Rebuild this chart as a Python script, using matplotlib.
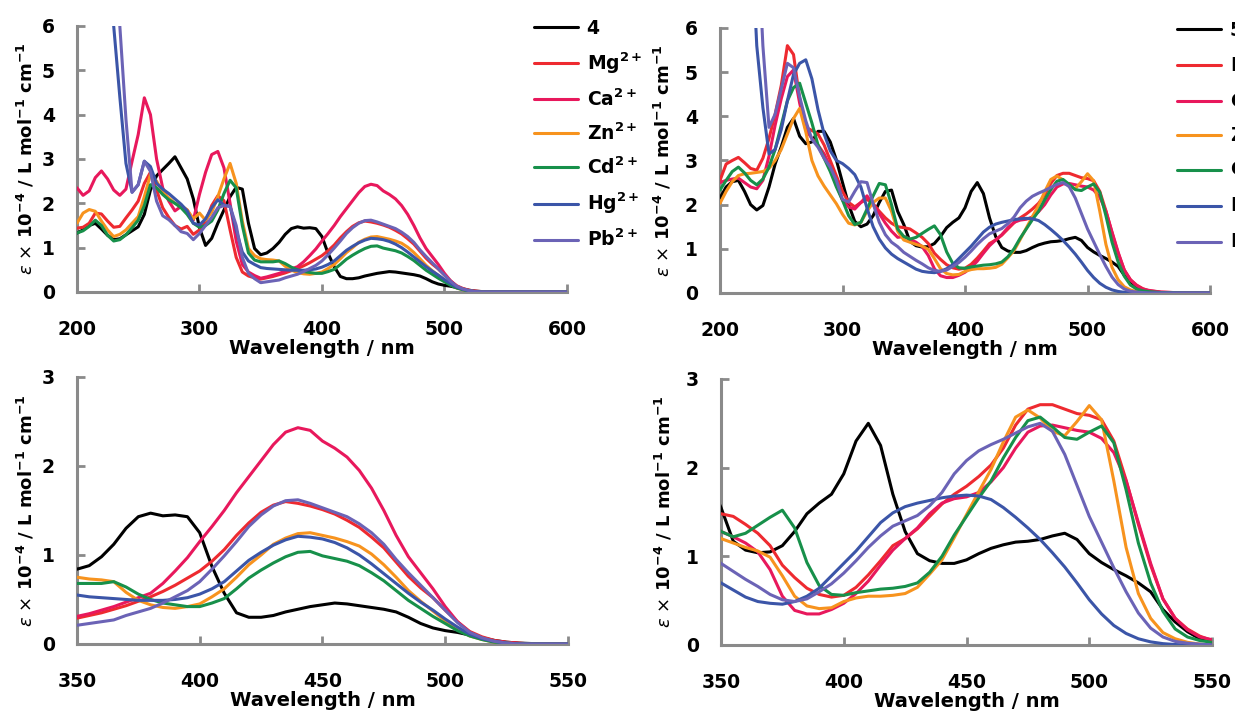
import numpy as np
import matplotlib
matplotlib.use("Agg")
import matplotlib.pyplot as plt

# ---------------- data ----------------
WAVELENGTH = np.concatenate([np.arange(200, 550, 5), [550, 560, 580, 600]])
nan = np.nan

SERIES_LABELS_4 = ["4", r"Mg$^{\mathbf{2+}}$", r"Ca$^{\mathbf{2+}}$", r"Zn$^{\mathbf{2+}}$",
                   r"Cd$^{\mathbf{2+}}$", r"Hg$^{\mathbf{2+}}$", r"Pb$^{\mathbf{2+}}$"]
SERIES_LABELS_5 = ["5", r"Mg$^{\mathbf{2+}}$", r"Ca$^{\mathbf{2+}}$", r"Zn$^{\mathbf{2+}}$",
                   r"Cd$^{\mathbf{2+}}$", r"Hg$^{\mathbf{2+}}$", r"Pb$^{\mathbf{2+}}$"]
COLORS = ["#000000", "#ee2a30", "#e8185c", "#f7931e", "#17904a", "#3b55a8", "#6b63b6"]

# compound 4 (values x 1e-4)
c4_free = [1.33, 1.40, 1.50, 1.55, 1.42, 1.28, 1.18, 1.20, 1.29, 1.38,
           1.47, 1.75, 2.30, 2.62, 2.76, 2.90, 3.05, 2.80, 2.55, 2.10,
           1.45, 1.05, 1.21, 1.55, 1.85, 2.15, 2.36, 2.32, 1.55, 0.98,
           0.84, 0.88, 0.98, 1.12, 1.30, 1.43, 1.47, 1.44, 1.45, 1.43,
           1.25, 0.87, 0.57, 0.35, 0.30, 0.30, 0.32, 0.36, 0.39, 0.42,
           0.44, 0.46, 0.45, 0.43, 0.41, 0.39, 0.36, 0.30, 0.23, 0.18,
           0.15, 0.13, 0.10, 0.07, 0.04, 0.02, 0.01, 0.005, 0.0, 0.0,
           0.0, 0.0, 0.0, 0.0]
c4_mg = [1.44, 1.46, 1.55, 1.78, 1.76, 1.60, 1.46, 1.48, 1.67, 1.85,
         2.05, 2.45, 2.70, 2.30, 1.90, 1.68, 1.50, 1.42, 1.48, 1.30,
         1.40, 1.58, 1.95, 2.17, 2.06, 1.40, 0.78, 0.45, 0.36, 0.32,
         0.29, 0.32, 0.35, 0.39, 0.43, 0.48, 0.53, 0.59, 0.66, 0.74,
         0.82, 0.93, 1.06, 1.22, 1.36, 1.48, 1.56, 1.60, 1.58, 1.55,
         1.51, 1.46, 1.39, 1.31, 1.20, 1.08, 0.92, 0.76, 0.63, 0.52,
         0.38, 0.25, 0.14, 0.08, 0.04, 0.02, 0.01, 0.0, 0.0, 0.0,
         0.0, 0.0, 0.0, 0.0]
c4_ca = [2.35, 2.18, 2.28, 2.58, 2.73, 2.55, 2.30, 2.18, 2.32, 2.95,
         3.55, 4.38, 4.00, 3.00, 2.35, 2.05, 1.83, 1.93, 1.85, 1.62,
         2.20, 2.70, 3.10, 3.17, 2.80, 2.00, 1.15, 0.62, 0.45, 0.37,
         0.31, 0.34, 0.38, 0.42, 0.47, 0.52, 0.57, 0.68, 0.82, 0.97,
         1.15, 1.32, 1.50, 1.70, 1.88, 2.06, 2.24, 2.38, 2.43, 2.40,
         2.28, 2.20, 2.10, 1.95, 1.75, 1.50, 1.22, 0.98, 0.80, 0.62,
         0.42, 0.25, 0.13, 0.06, 0.03, 0.015, 0.005, 0.0, 0.0, 0.0,
         0.0, 0.0, 0.0, 0.0]
c4_zn = [1.55, 1.78, 1.86, 1.82, 1.60, 1.40, 1.25, 1.30, 1.40, 1.55,
         1.70, 2.15, 2.65, 2.50, 2.26, 2.12, 2.00, 1.95, 1.85, 1.65,
         1.78, 1.62, 1.80, 2.15, 2.55, 2.90, 2.45, 1.60, 0.98, 0.82,
         0.75, 0.73, 0.72, 0.70, 0.58, 0.49, 0.44, 0.41, 0.40, 0.42,
         0.45, 0.53, 0.62, 0.75, 0.89, 1.00, 1.12, 1.19, 1.24, 1.25,
         1.22, 1.19, 1.15, 1.10, 1.01, 0.89, 0.75, 0.60, 0.48, 0.37,
         0.26, 0.17, 0.09, 0.05, 0.02, 0.01, 0.0, 0.0, 0.0, 0.0,
         0.0, 0.0, 0.0, 0.0]
c4_cd = [1.33, 1.38, 1.48, 1.62, 1.50, 1.28, 1.15, 1.18, 1.29, 1.45,
         1.62, 1.95, 2.42, 2.35, 2.20, 2.08, 2.00, 1.90, 1.75, 1.55,
         1.46, 1.50, 1.60, 1.85, 2.22, 2.52, 2.35, 1.50, 0.88, 0.72,
         0.68, 0.68, 0.68, 0.70, 0.64, 0.56, 0.50, 0.46, 0.44, 0.42,
         0.42, 0.46, 0.51, 0.62, 0.74, 0.83, 0.91, 0.98, 1.03, 1.04,
         0.99, 0.96, 0.93, 0.88, 0.80, 0.71, 0.60, 0.49, 0.40, 0.31,
         0.23, 0.15, 0.09, 0.05, 0.02, 0.01, 0.0, 0.0, 0.0, 0.0,
         0.0, 0.0, 0.0, 0.0]
c4_hg = [nan, nan, nan, nan, nan, 8.5, 6.0, 4.4, 2.9, 2.25,
         2.42, 2.95, 2.83, 2.45, 2.32, 2.22, 2.10, 1.98, 1.83, 1.55,
         1.51, 1.65, 1.90, 2.08, 1.96, 1.93, 1.40, 0.90, 0.70, 0.62,
         0.55, 0.53, 0.52, 0.51, 0.50, 0.49, 0.49, 0.49, 0.50, 0.52,
         0.56, 0.62, 0.70, 0.82, 0.94, 1.03, 1.11, 1.17, 1.21, 1.20,
         1.18, 1.14, 1.08, 1.00, 0.90, 0.79, 0.68, 0.57, 0.47, 0.38,
         0.28, 0.19, 0.11, 0.06, 0.03, 0.01, 0.0, 0.0, 0.0, 0.0,
         0.0, 0.0, 0.0, 0.0]
c4_pb = [nan, nan, nan, nan, nan, nan, 8.0, 6.0, 3.9, 2.25,
         2.42, 2.95, 2.72, 2.05, 1.72, 1.63, 1.50, 1.36, 1.32, 1.18,
         1.32, 1.50, 1.68, 1.90, 1.95, 1.93, 1.50, 0.78, 0.42, 0.30,
         0.21, 0.23, 0.25, 0.27, 0.32, 0.36, 0.40, 0.46, 0.53, 0.60,
         0.70, 0.84, 0.99, 1.15, 1.32, 1.45, 1.55, 1.61, 1.62, 1.58,
         1.53, 1.48, 1.43, 1.35, 1.25, 1.12, 0.95, 0.80, 0.66, 0.52,
         0.38, 0.24, 0.13, 0.07, 0.03, 0.01, 0.0, 0.0, 0.0, 0.0,
         0.0, 0.0, 0.0, 0.0]

# compound 5 (values x 1e-4)
c5_free = [2.15, 2.40, 2.52, 2.55, 2.30, 2.00, 1.88, 1.98, 2.40, 2.92,
           3.31, 3.75, 3.95, 3.55, 3.38, 3.42, 3.66, 3.66, 3.42, 3.01,
           2.50, 2.00, 1.62, 1.50, 1.56, 1.75, 2.05, 2.30, 2.33, 1.85,
           1.55, 1.17, 1.07, 1.04, 1.05, 1.12, 1.28, 1.48, 1.60, 1.70,
           1.93, 2.30, 2.50, 2.25, 1.70, 1.28, 1.03, 0.95, 0.92, 0.92,
           0.96, 1.03, 1.09, 1.13, 1.16, 1.17, 1.19, 1.23, 1.26, 1.19,
           1.03, 0.93, 0.85, 0.78, 0.70, 0.60, 0.40, 0.26, 0.15, 0.07,
           0.03, 0.01, 0.0, 0.0]
c5_mg = [2.55, 2.92, 3.00, 3.07, 2.95, 2.82, 2.78, 3.05, 3.50, 4.05,
         4.70, 5.60, 5.40, 4.40, 3.75, 3.68, 3.60, 3.35, 3.00, 2.65,
         2.30, 2.05, 1.95, 2.05, 2.12, 2.02, 1.85, 1.70, 1.58, 1.50,
         1.48, 1.45, 1.36, 1.26, 1.12, 0.90, 0.76, 0.64, 0.57, 0.54,
         0.56, 0.65, 0.79, 0.95, 1.12, 1.20, 1.31, 1.45, 1.59, 1.70,
         1.79, 1.90, 2.03, 2.22, 2.48, 2.66, 2.71, 2.71, 2.66, 2.61,
         2.59, 2.54, 2.30, 1.86, 1.36, 0.90, 0.52, 0.30, 0.18, 0.10,
         0.05, 0.02, 0.0, 0.0]
c5_ca = [2.50, 2.55, 2.58, 2.60, 2.50, 2.40, 2.36, 2.55, 3.10, 3.80,
         4.40, 4.90, 5.05, 4.30, 3.70, 3.50, 3.35, 3.15, 2.85, 2.45,
         2.10, 1.95, 1.90, 2.05, 2.20, 2.00, 1.80, 1.58, 1.40, 1.26,
         1.28, 1.22, 1.15, 1.05, 0.85, 0.55, 0.39, 0.35, 0.35, 0.40,
         0.47, 0.58, 0.72, 0.90, 1.07, 1.20, 1.32, 1.48, 1.60, 1.65,
         1.67, 1.72, 1.84, 2.00, 2.22, 2.40, 2.47, 2.48, 2.45, 2.42,
         2.40, 2.33, 2.17, 1.85, 1.38, 0.92, 0.52, 0.30, 0.17, 0.09,
         0.06, 0.02, 0.0, 0.0]
c5_zn = [2.03, 2.30, 2.52, 2.66, 2.70, 2.71, 2.73, 2.75, 2.82, 3.00,
         3.25, 3.60, 3.95, 4.18, 3.65, 3.00, 2.65, 2.42, 2.22, 2.02,
         1.78, 1.58, 1.54, 1.60, 1.85, 2.05, 2.15, 2.15, 1.85, 1.40,
         1.20, 1.15, 1.10, 1.06, 0.99, 0.78, 0.55, 0.44, 0.41, 0.42,
         0.49, 0.53, 0.55, 0.55, 0.56, 0.58, 0.65, 0.80, 0.96, 1.21,
         1.47, 1.73, 1.98, 2.29, 2.57, 2.65, 2.56, 2.41, 2.36, 2.52,
         2.70, 2.54, 1.85, 1.10, 0.58, 0.30, 0.14, 0.07, 0.03, 0.01,
         0.0, 0.0, 0.0, 0.0]
c5_cd = [2.33, 2.55, 2.75, 2.85, 2.72, 2.55, 2.45, 2.58, 2.85, 3.25,
         3.80, 4.35, 4.65, 4.75, 4.30, 3.85, 3.35, 3.05, 2.75, 2.40,
         2.10, 1.75, 1.55, 1.60, 1.90, 2.20, 2.48, 2.45, 2.00, 1.45,
         1.28, 1.22, 1.26, 1.35, 1.44, 1.52, 1.32, 0.93, 0.67, 0.57,
         0.56, 0.59, 0.61, 0.63, 0.64, 0.66, 0.70, 0.82, 1.00, 1.24,
         1.45, 1.66, 1.85, 2.11, 2.34, 2.53, 2.57, 2.46, 2.34, 2.32,
         2.40, 2.47, 2.28, 1.75, 1.15, 0.70, 0.38, 0.18, 0.09, 0.05,
         0.03, 0.01, 0.0, 0.0]
c5_hg = [nan, nan, nan, nan, nan, 8.5, 5.6, 4.2, 3.15, 3.25,
         3.70, 4.35, 4.95, 5.20, 5.28, 4.85, 4.15, 3.60, 3.22, 3.00,
         2.93, 2.82, 2.68, 2.40, 1.92, 1.50, 1.22, 1.02, 0.88, 0.78,
         0.70, 0.62, 0.54, 0.49, 0.47, 0.46, 0.49, 0.55, 0.64, 0.78,
         0.92, 1.06, 1.22, 1.38, 1.49, 1.56, 1.60, 1.63, 1.66, 1.68,
         1.69, 1.68, 1.64, 1.55, 1.44, 1.32, 1.19, 1.04, 0.88, 0.70,
         0.51, 0.35, 0.22, 0.13, 0.07, 0.035, 0.015, 0.005, 0.0, 0.0,
         0.0, 0.0, 0.0, 0.0]
c5_pb = [nan, nan, nan, nan, nan, nan, 8.5, 5.6, 3.75, 4.05,
         4.62, 5.20, 5.10, 4.45, 3.90, 3.48, 3.30, 3.05, 2.85, 2.55,
         2.12, 2.06, 2.30, 2.52, 2.50, 2.02, 1.60, 1.32, 1.15, 1.05,
         0.92, 0.83, 0.74, 0.66, 0.57, 0.51, 0.49, 0.52, 0.60, 0.69,
         0.81, 0.95, 1.10, 1.23, 1.34, 1.40, 1.46, 1.57, 1.72, 1.93,
         2.08, 2.19, 2.26, 2.32, 2.39, 2.46, 2.50, 2.41, 2.15, 1.80,
         1.45, 1.16, 0.87, 0.60, 0.36, 0.19, 0.09, 0.04, 0.02, 0.01,
         0.0, 0.0, 0.0, 0.0]

COMPOUND_4 = [c4_free, c4_mg, c4_ca, c4_zn, c4_cd, c4_hg, c4_pb]
COMPOUND_5 = [c5_free, c5_mg, c5_ca, c5_zn, c5_cd, c5_hg, c5_pb]

XTICKS_FULL = [200, 300, 400, 500, 600]
YTICKS_FULL = [0, 1, 2, 3, 4, 5, 6]
XTICKS_ZOOM = [350, 400, 450, 500, 550]
YTICKS_ZOOM = [0, 1, 2, 3]

XLABEL = "Wavelength / nm"
YLABEL = (r"$\varepsilon$ $\times$ 10$^{\mathbf{-4}}$ / L mol$^{\mathbf{-1}}$"
          r" cm$^{\mathbf{-1}}$")

# ---------------- style ----------------
plt.rcParams["font.family"] = ["DejaVu Sans"]
plt.rcParams["mathtext.fontset"] = "dejavusans"
SPINE = "#8a8a8a"
FS = 13.5

fig = plt.figure(figsize=(12.35, 7.16), dpi=100)
ax_tl = fig.add_axes([0.0623, 0.5922, 0.3968, 0.3715])
ax_tr = fig.add_axes([0.5830, 0.5908, 0.3968, 0.3701])
ax_bl = fig.add_axes([0.0623, 0.1006, 0.3976, 0.3729])
ax_br = fig.add_axes([0.5838, 0.0992, 0.3976, 0.3715])


def style(ax, xlim, xticks, ylim, yticks, ylabelpad):
    ax.set_xlim(*xlim)
    ax.set_ylim(*ylim)
    ax.set_xticks(xticks)
    ax.set_yticks(yticks)
    for s in ["top", "right"]:
        ax.spines[s].set_visible(False)
    for s in ["left", "bottom"]:
        ax.spines[s].set_color(SPINE)
        ax.spines[s].set_linewidth(2.2)
    ax.tick_params(direction="in", length=6, width=2, color=SPINE,
                   labelsize=FS)
    ax.tick_params(axis="x", pad=20)
    ax.tick_params(axis="y", pad=16)
    for lbl in ax.get_xticklabels() + ax.get_yticklabels():
        lbl.set_fontweight("bold")
    ax.set_xlabel(XLABEL, fontsize=14, fontweight="bold", labelpad=0)
    ax.set_ylabel(YLABEL, fontsize=13, fontweight="bold", labelpad=ylabelpad)


def draw(ax, data, labels, legend):
    handles = []
    for vals, col, lab in zip(data, COLORS, labels):
        h, = ax.plot(WAVELENGTH, vals, color=col, lw=2.2, zorder=3,
                     solid_capstyle="round", solid_joinstyle="round",
                     label=lab)
        handles.append(h)
    if legend:
        ax.legend(handles=handles, loc="upper left",
                  bbox_to_anchor=(0.933, 1.027), frameon=False,
                  handlelength=2.35, handletextpad=0.45, labelspacing=0.67,
                  borderpad=0, borderaxespad=0,
                  prop={"weight": "bold", "size": FS})


draw(ax_tl, COMPOUND_4, SERIES_LABELS_4, True)
draw(ax_tr, COMPOUND_5, SERIES_LABELS_5, True)
draw(ax_bl, COMPOUND_4, SERIES_LABELS_4, False)
draw(ax_br, COMPOUND_5, SERIES_LABELS_5, False)

style(ax_tl, (200, 600), XTICKS_FULL, (0, 6), YTICKS_FULL, 4)
style(ax_tr, (200, 600), XTICKS_FULL, (0, 6), YTICKS_FULL, 8)
style(ax_bl, (350, 550), XTICKS_ZOOM, (0, 3), YTICKS_ZOOM, 4)
style(ax_br, (350, 550), XTICKS_ZOOM, (0, 3), YTICKS_ZOOM, 8)

fig.savefig("out.png", dpi=100)
